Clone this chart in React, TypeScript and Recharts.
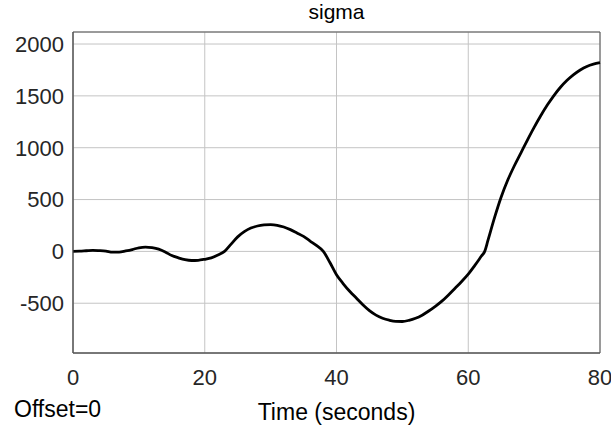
import React from 'react';
import {
  LineChart,
  Line,
  XAxis,
  YAxis,
  CartesianGrid,
  ReferenceArea,
} from 'recharts';

// time (s) and sigma values
const times = [
  0, 1, 2, 3, 4, 5, 6, 7, 8, 9, 10, 11, 12, 13, 14, 15, 16, 17, 18, 19, 20,
  21, 22, 23, 24, 25, 26, 27, 28, 29, 30, 31, 32, 33, 34, 35, 36, 37, 38, 39,
  40, 41, 42, 43, 44, 45, 46, 47, 48, 49, 50, 51, 52, 53, 54, 55, 56, 57, 58,
  59, 60, 61, 62, 62.5, 63, 64, 65, 66, 67, 68, 69, 70, 71, 72, 73, 74, 75,
  76, 77, 78, 79, 80,
];
const sigma = [
  0, 2, 6, 10, 7, 2, -8, -8, 4, 18, 35, 42, 36, 22, -5, -40, -62, -80, -88,
  -86, -76, -62, -35, 0, 70, 140, 190, 225, 245, 255, 258, 252, 235, 210, 178,
  145, 100, 55, 0, -107, -225, -310, -385, -450, -515, -572, -615, -645, -664,
  -675, -676, -665, -645, -615, -575, -530, -480, -420, -355, -290, -220, -135,
  -45, 0, 108, 328, 525, 688, 826, 951, 1076, 1196, 1308, 1411, 1503, 1583,
  1650, 1705, 1750, 1784, 1806, 1820,
];
const xTicks = [0, 20, 40, 60, 80];
const yTicks = [-500, 0, 500, 1000, 1500, 2000];
const yDomain = [-980, 2116];

const data = times.map((t, i) => ({ t, sigma: sigma[i] }));

const font = 'Liberation Sans, Arial, sans-serif';
const txt = '#262626';

export default function App() {
  return (
    <div style={{ position: 'absolute', left: 0, top: 0, width: 611, height: 426, background: '#fff', fontFamily: font }}>
      <div style={{ position: 'absolute', left: 73, width: 527, top: 0, textAlign: 'center', fontSize: 21, color: '#000', lineHeight: '24px' }}>
        sigma
      </div>
      <div style={{ position: 'absolute', left: 14, top: 396, fontSize: 23, color: '#000', lineHeight: '26px' }}>
        Offset=0
      </div>
      <LineChart
        width={611}
        height={426}
        data={data}
        margin={{ top: 32, right: 11, bottom: 0, left: 0 }}
      >
        <CartesianGrid stroke="#c4c4c4" strokeWidth={1} />
        <XAxis
          dataKey="t"
          type="number"
          domain={[0, 80]}
          ticks={xTicks}
          height={73}
          tickLine={false}
          tickSize={0}
          tickMargin={16}
          axisLine={{ stroke: '#555' }}
          tick={{ fill: txt, fontSize: 22, fontFamily: font }}
          label={{ value: 'Time (seconds)', position: 'insideBottom', offset: 6, fill: '#000', fontSize: 23, fontFamily: font }}
        />
        <YAxis
          type="number"
          domain={yDomain}
          ticks={yTicks}
          width={73}
          allowDataOverflow
          tickLine={false}
          tickSize={0}
          tickMargin={9}
          axisLine={{ stroke: '#555' }}
          tick={{ fill: txt, fontSize: 22, fontFamily: font }}
        />
        <ReferenceArea x1={0} x2={80} y1={yDomain[0]} y2={yDomain[1]} fill="none" stroke="#555" strokeWidth={1} />
        <Line
          type="monotone"
          dataKey="sigma"
          stroke="#000"
          strokeWidth={2.8}
          dot={false}
          isAnimationActive={false}
        />
      </LineChart>
    </div>
  );
}
